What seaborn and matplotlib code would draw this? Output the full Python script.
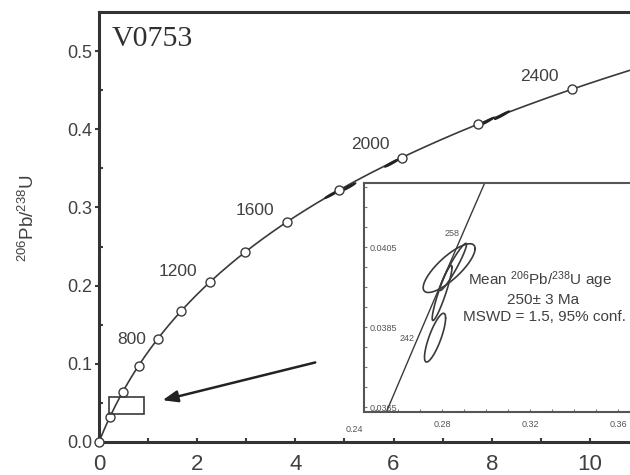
import numpy as np
import matplotlib
matplotlib.use('Agg')
import matplotlib.pyplot as plt
import seaborn as sns
from matplotlib.ticker import MultipleLocator, FixedLocator, FormatStrFormatter

# decay constants (per year)
lam238 = 1.55125e-10
lam235 = 9.8485e-10

# marker ages on the concordia (Ma) and labelled ages
marker_ages = [0, 200, 400, 600, 800, 1000, 1200, 1400, 1600, 1800, 2000, 2200, 2400]
label_ages = ['800', '1200', '1600', '2000', '2400']
label_x = [0.67, 1.61, 3.18, 5.52, 8.98]
label_y = [0.131, 0.218, 0.296, 0.381, 0.467]

# small data ellipses on the main diagram
small_cx = [4.75, 5.08, 5.97, 7.90, 8.21]
small_cy = [0.317, 0.326, 0.357, 0.410, 0.418]

# zircon ellipses in the inset: centre x, centre y, half-width x, half-height y, correlation
ell_cx = [0.2832, 0.2850, 0.2800, 0.2768]
ell_cy = [0.03998, 0.04001, 0.03936, 0.03824]
ell_hx = [0.0118, 0.0061, 0.0045, 0.0048]
ell_hy = [0.00061, 0.00059, 0.00069, 0.00061]
ell_rho = [0.80, 0.95, 0.92, 0.80]

inset_ages = ['258', '242']
inset_age_x = [0.2845, 0.2643]
inset_age_y = [0.04085, 0.03823]


def concordia(age_ma):
    t = np.asarray(age_ma, dtype=float) * 1e6
    return np.exp(lam235 * t) - 1, np.exp(lam238 * t) - 1


def ellipse(cx, cy, hx, hy, rho):
    th = np.linspace(0, 2 * np.pi, 200)
    xs = cx + hx * np.cos(th)
    ys = cy + hy * (rho * np.cos(th) + np.sqrt(1 - rho ** 2) * np.sin(th))
    return xs, ys


sns.set_style('ticks')
plt.rcParams['font.family'] = ['Liberation Sans', 'DejaVu Sans']
plt.rcParams['mathtext.fontset'] = 'custom'
plt.rcParams['mathtext.rm'] = 'Liberation Sans'
plt.rcParams['mathtext.it'] = 'Liberation Sans'

ink = '#3a3a3a'
txt = '#404040'

fig = plt.figure(figsize=(6.3, 4.75), dpi=100)
ax = fig.add_axes([99 / 630, 33 / 475, 540 / 630, 430 / 475])

# concordia curve
ages = np.linspace(0, 2600, 400)
cx, cy = concordia(ages)
sns.lineplot(x=cx, y=cy, ax=ax, color=ink, lw=1.2, sort=False, estimator=None)
mx, my = concordia(marker_ages)
sns.scatterplot(x=mx, y=my, ax=ax, s=42, marker='o', facecolor='white',
                edgecolor=ink, linewidth=1.0, zorder=4, clip_on=False)

for lab, x, y in zip(label_ages, label_x, label_y):
    ax.text(x, y, lab, fontsize=12.5, color=txt, ha='center', va='center')

for x, y in zip(small_cx, small_cy):
    ex, ey = ellipse(x, y, 0.15, 0.0053, 0.97)
    ax.fill(ex, ey, color='#222222', zorder=3)

# box and arrow pointing to the enlarged region
ax.add_patch(plt.Rectangle((0.20, 0.036), 0.72, 0.0217, fill=False, ec=ink, lw=1.2, zorder=5))
ax.annotate('', xy=(1.24, 0.0526), xytext=(4.46, 0.1026),
            arrowprops=dict(arrowstyle='-|>,head_length=0.9,head_width=0.35',
                            color='#222222', lw=1.8))

ax.text(0.265, 0.5064, 'V0753', fontsize=21.5, family='Liberation Serif', color='#303030',
        ha='left', va='baseline')

ax.set_xlim(0, 11)
ax.set_ylim(0, 0.55)
ax.xaxis.set_major_locator(MultipleLocator(2))
ax.xaxis.set_minor_locator(MultipleLocator(1))
ax.yaxis.set_major_locator(MultipleLocator(0.1))
ax.yaxis.set_minor_locator(MultipleLocator(0.05))
ax.yaxis.set_major_formatter(FormatStrFormatter('%.1f'))
ax.tick_params(axis='both', which='major', direction='out', length=3, width=1.5, color=ink)
ax.tick_params(axis='both', which='minor', direction='in', length=3, width=1.5, color=ink)
ax.tick_params(axis='x', which='both', direction='in')
ax.tick_params(axis='x', labelsize=16, labelcolor=txt, pad=9)
ax.tick_params(axis='y', labelsize=13, labelcolor=txt, pad=2)
for s in ax.spines.values():
    s.set_linewidth(2.2)
    s.set_color('#333333')
ax.set_xlabel('')
ax.set_ylabel('')
fig.text(28 / 630, 1 - 218 / 475, '$^{206}$Pb/$^{238}$U', rotation=90, fontsize=13.5,
         color=txt, ha='center', va='center')

# inset
ax_in = fig.add_axes([364 / 630, 63 / 475, 271 / 630, 229 / 475])
ax_in.set_facecolor('white')
icx, icy = concordia(np.linspace(220, 280, 200))
sns.lineplot(x=icx, y=icy, ax=ax_in, color=ink, lw=1.0, sort=False, estimator=None)
for x, y, hx, hy, r in zip(ell_cx, ell_cy, ell_hx, ell_hy, ell_rho):
    ex, ey = ellipse(x, y, hx, hy, r)
    ax_in.plot(ex, ey, color=ink, lw=1.2)
for lab, x, y in zip(inset_ages, inset_age_x, inset_age_y):
    ax_in.text(x, y, lab, fontsize=6.5, color='#555555', ha='center', va='center')

ax_in.text(0.3245, 0.03968, 'Mean $^{206}$Pb/$^{238}$U age', fontsize=11, color=txt,
           ha='center', va='center')
ax_in.text(0.3259, 0.03918, '250\u00b1 3 Ma', fontsize=11, color=txt, ha='center', va='center')
ax_in.text(0.3264, 0.03875, 'MSWD = 1.5, 95% conf.', fontsize=11, color=txt,
           ha='center', va='center')

ax_in.set_xlim(0.2445, 0.3677)
ax_in.set_ylim(0.03638, 0.04211)
ax_in.xaxis.set_major_locator(FixedLocator([0.28, 0.32, 0.36]))
ax_in.xaxis.set_minor_locator(MultipleLocator(0.01))
ax_in.yaxis.set_major_locator(FixedLocator([0.0365, 0.0385, 0.0405]))
ax_in.yaxis.set_minor_locator(MultipleLocator(0.0005))
ax_in.xaxis.set_major_formatter(FormatStrFormatter('%.2f'))
ax_in.yaxis.set_major_formatter(FormatStrFormatter('%.4f'))
ax_in.tick_params(axis='both', which='both', direction='in', length=2.5, width=0.8,
                  color='#777777', labelsize=6.5, labelcolor='#555555')
ax_in.tick_params(axis='x', pad=6)
ax_in.tick_params(axis='y', pad=-4)
for lab in ax_in.get_yticklabels():
    lab.set_horizontalalignment('left')
ax_in.text(0.24, -0.055, '0.24', transform=ax_in.get_xaxis_transform(), fontsize=6.5,
           color='#555555', ha='center', va='top', clip_on=False)
for s in ax_in.spines.values():
    s.set_linewidth(1.5)
    s.set_color('#555555')

fig.savefig('out.png', dpi=100)
